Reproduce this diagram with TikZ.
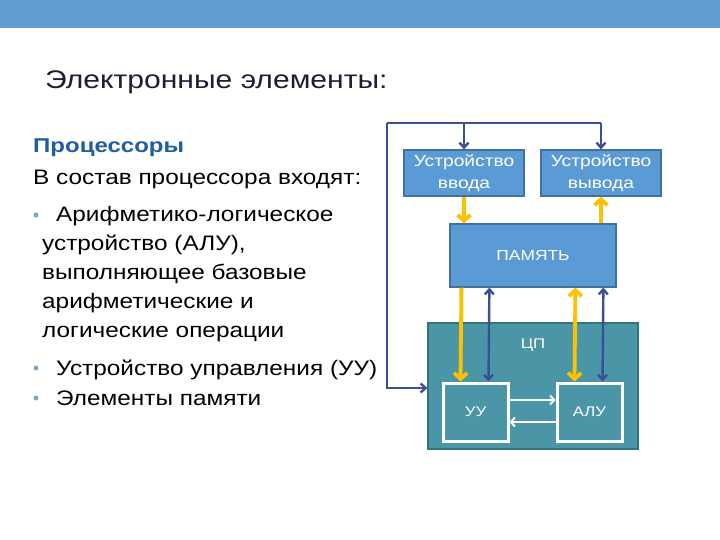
\documentclass[tikz,border=0pt]{standalone}
\usepackage{fontspec}
\setmainfont{Liberation Sans}
\newfontfamily\lfont[FakeStretch=1.16]{Liberation Sans}
\newfontfamily\bfont[FakeStretch=1.2]{Liberation Sans}
\newfontfamily\tfont[FakeStretch=1.18]{Liberation Sans}
\usetikzlibrary{arrows.meta}
\definecolor{bar}{RGB}{98,158,212}
\definecolor{boxblue}{RGB}{91,155,213}
\definecolor{boxedge}{RGB}{65,113,156}
\definecolor{tealf}{RGB}{75,150,166}
\definecolor{tealedge}{RGB}{50,115,130}
\definecolor{navy}{RGB}{60,78,150}
\definecolor{gold}{RGB}{255,192,0}
\definecolor{heading}{RGB}{31,95,160}
\definecolor{bulletc}{RGB}{120,165,200}
\definecolor{titlec}{RGB}{30,30,50}
\tikzset{
  ltext/.style={anchor=base west, inner sep=0pt, font=\lfont\fontsize{21}{25}\selectfont, text=black},
  bluebox/.style={draw=boxedge, line width=1.2pt, fill=boxblue, text=white, align=center, inner sep=0pt, font=\bfont\fontsize{16}{22}\selectfont},
  cpubox/.style={draw=tealedge, line width=1.2pt, fill=tealf, inner sep=0pt},
  unitbox/.style={draw=white, line width=3pt, fill=tealf, text=white, inner sep=0pt, font=\bfont\fontsize{14}{17}\selectfont},
  navyarrow/.style={draw=navy, line width=2.4pt, -{Straight Barb[length=5pt,width=9pt]}},
  navyboth/.style={draw=navy, line width=2.4pt, {Straight Barb[length=5pt,width=9pt]}-{Straight Barb[length=5pt,width=9pt]}},
  goldarrow/.style={draw=gold, line width=3.8pt, -{Straight Barb[length=6pt,width=13pt]}},
  goldboth/.style={draw=gold, line width=3.8pt, {Straight Barb[length=6pt,width=13pt]}-{Straight Barb[length=6pt,width=13pt]}},
  whitearrow/.style={draw=white, line width=2pt, -{Straight Barb[length=4pt,width=9pt]}},
  bulletdot/.style={circle, fill=bulletc, inner sep=0pt, minimum size=5pt}
}
\begin{document}
\begin{tikzpicture}[x=1pt,y=-1pt]
\useasboundingbox (0,0) rectangle (720,540);
\fill[white] (0,0) rectangle (720,540);
\fill[bar] (0,0) rectangle (720,28);

% title
\node[anchor=base west, inner sep=0pt, font=\tfont\fontsize{25.5}{30}\selectfont, text=titlec] (title) at (45,89) {Электронные элементы:};

% left text
\node[ltext, text=heading, font=\bfont\bfseries\fontsize{20}{24}\selectfont] (h) at (33,153) {Процессоры};
\node[ltext] (l1) at (33,185) {В состав процессора входят:};
\node[bulletdot] (b1) at (36,215) {};
\node[ltext] (l2) at (56,222) {Арифметико-логическое};
\node[ltext] (l3) at (42,251) {устройство (АЛУ),};
\node[ltext] (l4) at (42,279) {выполняющее базовые};
\node[ltext] (l5) at (42,308) {арифметические и};
\node[ltext] (l6) at (42,337) {логические операции};
\node[bulletdot] (b2) at (36,368) {};
\node[ltext] (l7) at (56,375) {Устройство управления (УУ)};
\node[bulletdot] (b3) at (36,398) {};
\node[ltext] (l8) at (56,405) {Элементы памяти};

% diagram boxes
\node[bluebox, minimum width=120pt, minimum height=46pt] (in) at (464,173) {Устройство\\ввода};
\node[bluebox, minimum width=120pt, minimum height=46pt] (out) at (601,173) {Устройство\\вывода};
\node[bluebox, minimum width=166pt, minimum height=63pt, font=\bfont\fontsize{14.5}{17}\selectfont] (mem) at (533,255.5) {ПАМЯТЬ};
\node[cpubox, minimum width=210pt, minimum height=126pt] (cpu) at (533,386) {};
\node[text=white, font=\bfont\fontsize{14}{17}\selectfont, inner sep=0pt] (cpulabel) at (533,345) {ЦП};
\node[unitbox, minimum width=65pt, minimum height=58pt] (uu) at (475.5,412) {УУ};
\node[unitbox, minimum width=65pt, minimum height=58pt] (alu) at (589.5,412) {АЛУ};

% feedback loop
\coordinate (fb) at (387,123);
\draw[navy, line width=2.4pt] (fb) -- (out.north |- fb);
\draw[navyarrow] (fb) |- ([yshift=-2pt]cpu.west);
\draw[navyarrow] (in.north |- fb) -- (in.north);
\draw[navyarrow] (out.north |- fb) -- (out.north);

% io - memory
\draw[goldarrow] (in.south) -- (in.south |- mem.north);
\draw[goldarrow] (out.south |- mem.north) -- (out.south);

% memory - cpu units
\draw[goldarrow] ([xshift=12pt]mem.south west) -- ([xshift=19pt]uu.north west);
\draw[navyboth] ([xshift=40pt]mem.south west) -- ([xshift=47pt]uu.north west);
\draw[goldboth] ([xshift=126pt]mem.south west) -- ([xshift=19pt]alu.north west);
\draw[navyboth] ([xshift=154pt]mem.south west) -- ([xshift=47pt]alu.north west);

% uu <-> alu
\draw[whitearrow] ([yshift=12pt]uu.east) -- ([yshift=12pt]alu.west);
\draw[whitearrow] ([yshift=-10pt]alu.west) -- ([yshift=-10pt]uu.east);
\end{tikzpicture}
\end{document}
